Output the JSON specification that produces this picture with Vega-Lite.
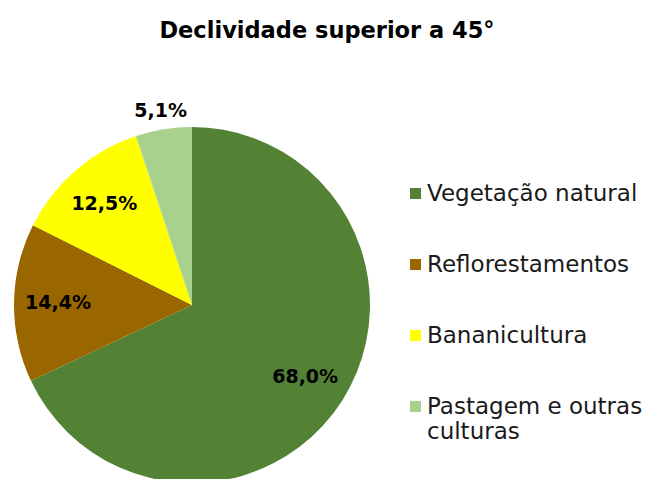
{
  "$schema": "https://vega.github.io/schema/vega-lite/v6.json",
  "autosize": "none",
  "width": 384,
  "height": 348,
  "padding": {"left": 0, "top": 131, "right": 270, "bottom": 0},
  "background": "white",
  "title": {
    "text": "Declividade superior a 45°",
    "font": "DejaVu Sans",
    "fontSize": 22.5,
    "fontWeight": "bold",
    "color": "#000000",
    "anchor": "middle",
    "dx": 135,
    "offset": 59
  },
  "data": {
    "values": [
      {"categoria": "Vegetação natural", "pct": 68.0, "rotulo": "68,0%", "ordem": 1},
      {"categoria": "Reflorestamentos", "pct": 14.4, "rotulo": "14,4%", "ordem": 2},
      {"categoria": "Bananicultura", "pct": 12.5, "rotulo": "12,5%", "ordem": 3},
      {"categoria": "Pastagem e outras culturas", "pct": 5.1, "rotulo": "5,1%", "ordem": 4}
    ]
  },
  "encoding": {
    "theta": {"field": "pct", "type": "quantitative", "stack": true},
    "order": {"field": "ordem", "type": "quantitative"}
  },
  "layer": [
    {
      "mark": {"type": "arc", "radius": 178},
      "encoding": {
        "color": {
          "field": "categoria",
          "type": "nominal",
          "sort": ["Vegetação natural", "Reflorestamentos", "Bananicultura", "Pastagem e outras culturas"],
          "scale": {
            "domain": ["Vegetação natural", "Reflorestamentos", "Bananicultura", "Pastagem e outras culturas"],
            "range": ["#548235", "#996600", "#FFFF00", "#A9D18E"]
          },
          "legend": {
            "title": null,
            "orient": "none",
            "legendX": 404,
            "legendY": 51,
            "symbolType": "square",
            "symbolSize": 121,
            "symbolStrokeWidth": 0,
            "labelFont": "DejaVu Sans",
            "labelFontSize": 23,
            "labelColor": "#1a1a1a",
            "labelOffset": 0,
            "labelLimit": 300,
            "rowPadding": 47,
            "labelExpr": "datum.label == 'Pastagem e outras culturas' ? ['Pastagem e outras', 'culturas'] : datum.label"
          }
        }
      }
    },
    {
      "mark": {"type": "text", "font": "DejaVu Sans", "fontSize": 19, "fontWeight": "bold", "color": "#000000", "radius": 134},
      "encoding": {
        "text": {"field": "rotulo"},
        "opacity": {"condition": {"test": "datum.pct < 6", "value": 0}, "value": 1}
      }
    },
    {
      "mark": {"type": "text", "font": "DejaVu Sans", "fontSize": 19, "fontWeight": "bold", "color": "#000000", "radius": 197},
      "encoding": {
        "text": {"field": "rotulo"},
        "opacity": {"condition": {"test": "datum.pct < 6", "value": 1}, "value": 0}
      }
    }
  ]
}
